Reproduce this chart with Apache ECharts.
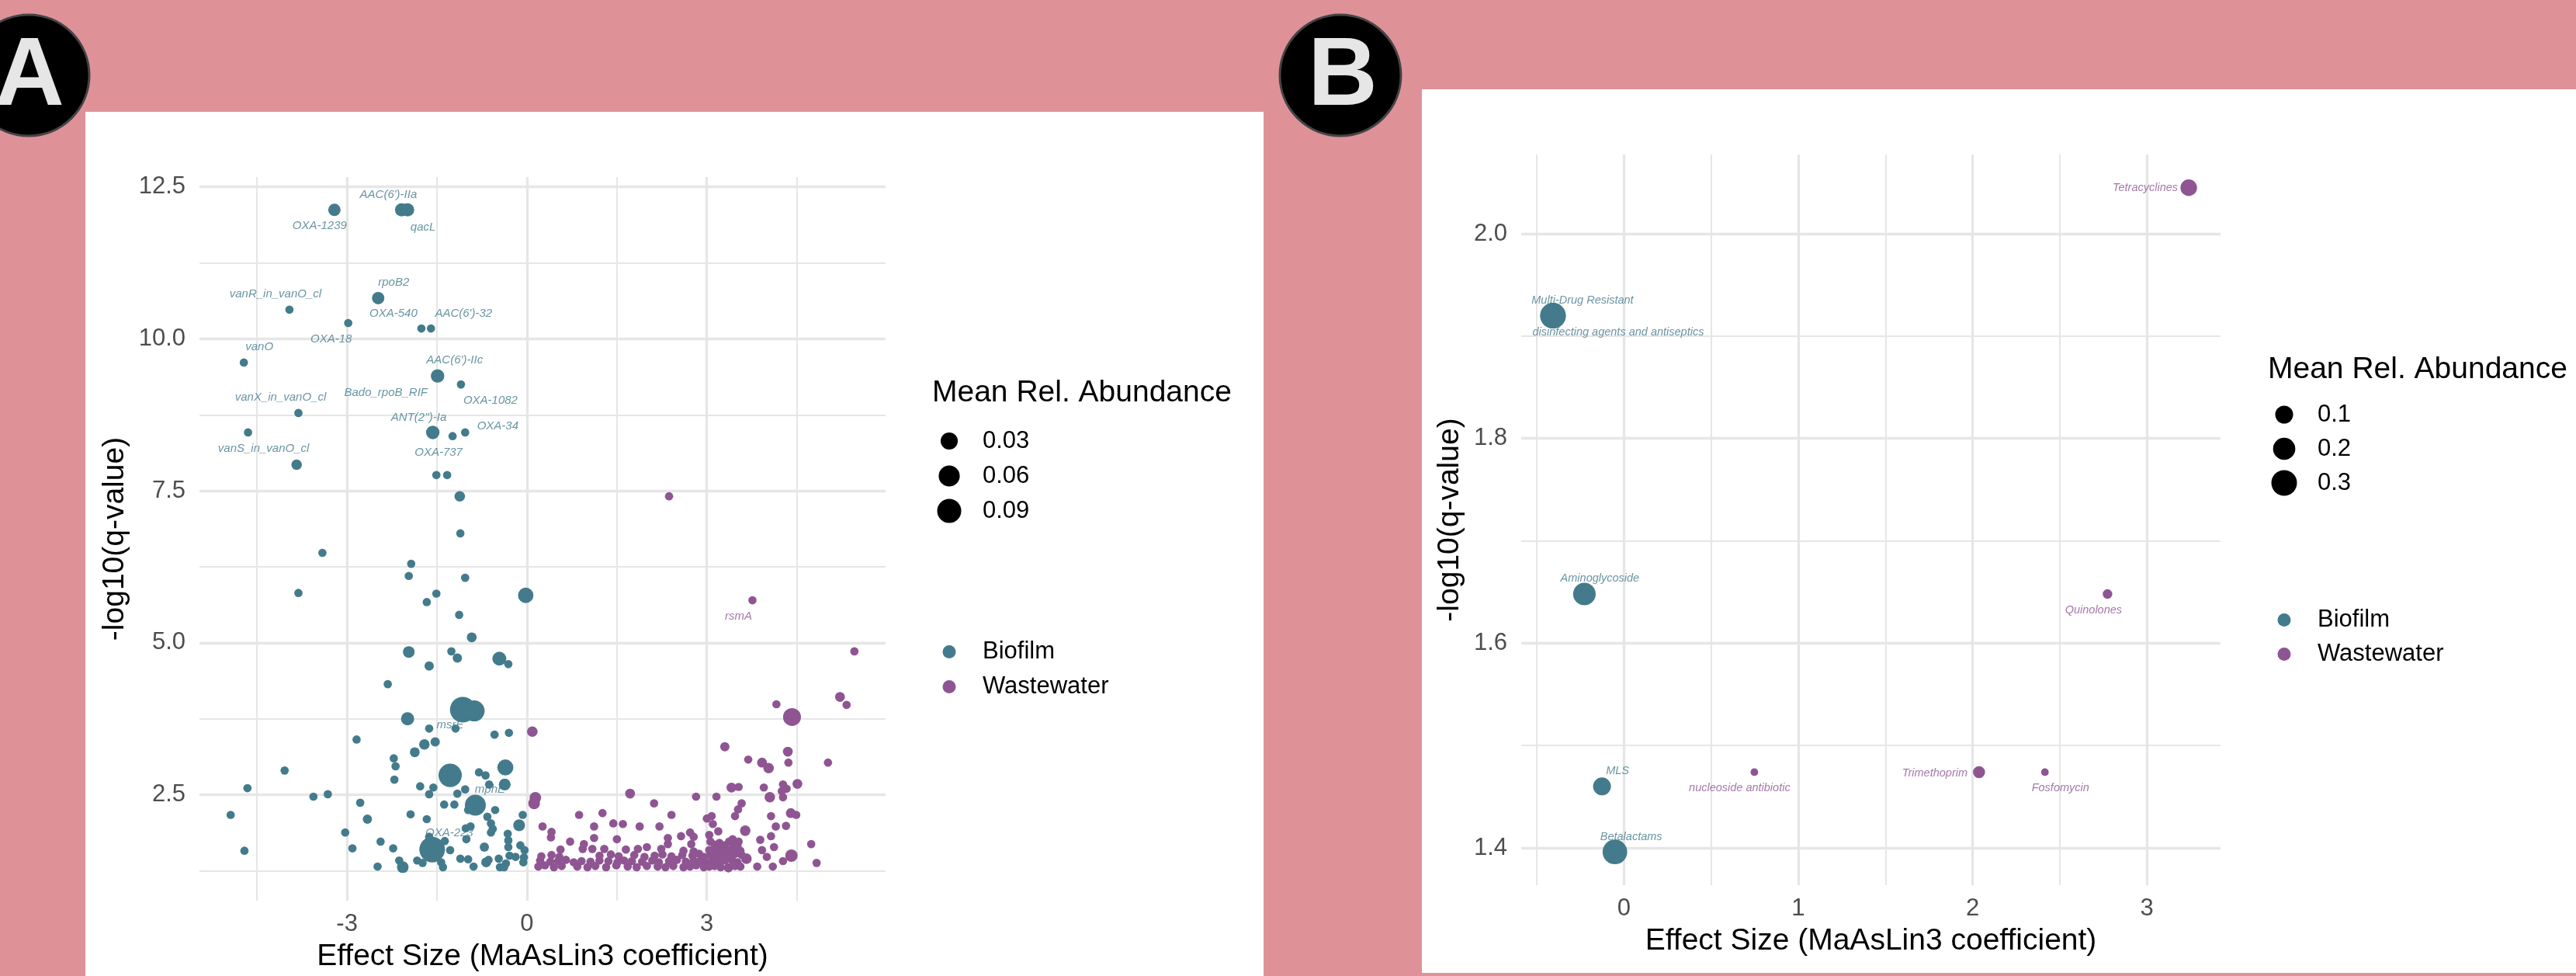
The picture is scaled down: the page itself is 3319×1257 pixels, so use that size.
<!DOCTYPE html>
<html>
<head>
<meta charset="utf-8">
<title>MaAsLin3 volcano plots</title>
<script src="https://cdn.jsdelivr.net/npm/echarts@6/dist/echarts.min.js"></script>
<style>
  html, body { margin: 0; padding: 0; background: #de9298; }
  #chart { width: 3319px; height: 1257px; }
</style>
</head>
<body>
<div id="chart"></div>
<script>
// panel A : single ARGs, [effect, -log10(q), mean rel. abundance, name]
var aBiofilmLabelled = [
  [-3.21, 12.12, 0.0073, "OXA-1239"], [-2.09, 12.12, 0.01, "AAC(6')-IIa"], [-1.99, 12.12, 0.01, "qacL"],
  [-2.48, 10.67, 0.0073, "rpoB2"], [-3.96, 10.48, 0.0001, "vanR_in_vanO_cl"], [-2.98, 10.26, 0.0001, "OXA-18"],
  [-1.76, 10.17, 0.0001, "OXA-540"], [-1.60, 10.17, 0.0001, "AAC(6')-32"], [-4.72, 9.61, 0.0001, "vanO"],
  [-1.51, 9.37, 0.0001, "Bado_rpoB_RIF"], [-1.49, 9.39, 0.011, "AAC(6')-IIc"], [-1.10, 9.25, 0.0001, "OXA-1082"],
  [-3.81, 8.78, 0.0001, "vanX_in_vanO_cl"], [-4.65, 8.46, 0.0001, "vanS_in_vanO_cl"], [-1.57, 8.46, 0.011, "ANT(2'')-Ia"],
  [-1.24, 8.40, 0.0001, "OXA-737"], [-1.03, 8.46, 0.0001, "OXA-34"], [-1.63, 3.59, 0.0001, "msrE"],
  [-0.86, 2.33, 0.059, "mphE"], [-1.58, 1.60, 0.108, "OXA-223"]
];
var aBiofilm = [
  [-3.84, 7.93, 0.0026], [-1.51, 7.76, 0.0001], [-1.33, 7.76, 0.0001], [-1.12, 7.41, 0.0026], [-1.11, 6.80, 0.0001],
  [-3.41, 6.48, 0.0001], [-1.93, 6.30, 0.0001], [-1.97, 6.10, 0.0001], [-1.03, 6.07, 0.0001], [-3.81, 5.82, 0.0001],
  [-1.51, 5.81, 0.0001], [-0.02, 5.78, 0.02], [-1.67, 5.67, 0.0001], [-1.13, 5.46, 0.0001], [-0.92, 5.09, 0.0015],
  [-1.97, 4.85, 0.0051], [-1.26, 4.86, 0.0001], [-1.16, 4.75, 0.0008], [-0.46, 4.74, 0.013], [-0.31, 4.65, 0.0001],
  [-1.63, 4.62, 0.0008], [-2.32, 4.32, 0.0001], [-1.07, 3.90, 0.108], [-0.88, 3.88, 0.059], [-1.99, 3.75, 0.01],
  [-1.19, 3.59, 0.0001], [-0.54, 3.49, 0.0001], [-0.30, 3.52, 0.0001], [-2.84, 3.41, 0.0001], [-1.71, 3.33, 0.0026],
  [-1.53, 3.37, 0.0008], [-1.87, 3.20, 0.0015], [-2.22, 3.10, 0.0001], [-2.19, 2.97, 0.0001], [-4.04, 2.90, 0.0001],
  [-0.36, 2.95, 0.023], [-1.28, 2.82, 0.082], [-0.80, 2.87, 0.0001], [-0.69, 2.82, 0.0001], [-2.21, 2.75, 0.0001],
  [-4.66, 2.61, 0.0001], [-0.37, 2.67, 0.0057], [-0.63, 2.67, 0.0001], [-1.78, 2.64, 0.0001], [-1.56, 2.62, 0.0001],
  [-1.63, 2.51, 0.0001], [-1.03, 2.59, 0.0001], [-1.16, 2.52, 0.0001], [-3.56, 2.47, 0.0001], [-3.32, 2.51, 0.0001],
  [-2.78, 2.37, 0.0001], [-1.38, 2.34, 0.0001], [-1.21, 2.34, 0.0001], [-0.53, 2.25, 0.0001], [-0.98, 2.25, 0.0001],
  [-4.94, 2.17, 0.0001], [-1.94, 2.18, 0.0001], [-0.07, 2.17, 0.0001], [-0.66, 2.14, 0.0001], [-2.66, 2.10, 0.0008],
  [-1.67, 2.10, 0.0001], [-0.60, 2.03, 0.0001], [-0.57, 1.94, 0.0001], [-0.60, 1.88, 0.0001], [-1.02, 1.95, 0.0001],
  [-0.94, 1.98, 0.0001], [-3.03, 1.88, 0.0001], [-0.13, 2.00, 0.0057], [-0.32, 1.86, 0.0001], [-0.31, 1.75, 0.0001],
  [-0.31, 1.64, 0.0001], [-1.01, 1.77, 0.0001], [-1.63, 1.81, 0.0001], [-1.37, 1.74, 0.0001], [-2.44, 1.73, 0.0001],
  [-2.91, 1.62, 0.0001], [-2.23, 1.62, 0.0001], [-1.65, 1.69, 0.0001], [-1.47, 1.69, 0.0001], [-1.28, 1.59, 0.0001],
  [-0.71, 1.64, 0.0008], [-0.11, 1.67, 0.0001], [-0.04, 1.59, 0.0001], [-4.71, 1.58, 0.0001], [-0.29, 1.50, 0.0001],
  [-0.19, 1.48, 0.0001], [-2.13, 1.42, 0.0001], [-2.07, 1.31, 0.0051], [-1.83, 1.42, 0.0001], [-1.74, 1.38, 0.0001],
  [-1.43, 1.39, 0.0001], [-1.40, 1.31, 0.0001], [-1.11, 1.45, 0.0001], [-0.98, 1.44, 0.0001], [-0.89, 1.32, 0.0001],
  [-0.68, 1.39, 0.0015], [-0.64, 1.43, 0.0001], [-0.47, 1.45, 0.0001], [-0.45, 1.31, 0.0001], [-0.35, 1.37, 0.0001],
  [-0.38, 1.31, 0.0001], [-0.06, 1.39, 0.0001], [-0.05, 1.47, 0.0001], [-2.49, 1.32, 0.0001]
];
var aWastewaterLabelled = [
  [3.76, 5.70, 0.0001, "rsmA"]
];
var aWastewater = [
  [2.37, 7.41, 0.0001], [5.46, 4.86, 0.0001], [4.16, 3.99, 0.0001], [4.42, 3.78, 0.035], [5.22, 4.11, 0.0015],
  [5.33, 3.98, 0.0001], [0.09, 3.54, 0.0026], [3.30, 3.29, 0.0008], [3.69, 3.08, 0.0001], [3.92, 3.03, 0.0015],
  [4.03, 2.94, 0.0026], [4.35, 3.21, 0.0015], [4.36, 3.03, 0.0001], [5.02, 3.03, 0.0001], [0.14, 2.45, 0.0051],
  [0.12, 2.36, 0.0051], [1.72, 2.52, 0.0015], [2.82, 2.47, 0.0001], [3.16, 2.47, 0.0001], [3.41, 2.62, 0.0015],
  [3.53, 2.63, 0.0001], [3.95, 2.62, 0.0001], [4.05, 2.46, 0.0026], [4.27, 2.67, 0.0001], [4.33, 2.60, 0.0001],
  [4.25, 2.56, 0.0001], [4.27, 2.46, 0.0001], [4.51, 2.68, 0.0015], [2.12, 2.36, 0.0001], [3.58, 2.36, 0.0001],
  [3.52, 2.26, 0.0001], [3.47, 2.15, 0.0001], [0.87, 2.17, 0.0001], [1.26, 2.20, 0.0001], [2.41, 2.17, 0.0001],
  [4.07, 2.15, 0.0001], [4.40, 2.20, 0.0015], [4.49, 2.17, 0.0001], [0.26, 1.98, 0.0001], [0.41, 1.89, 0.0001],
  [0.40, 1.80, 0.0001], [1.12, 1.98, 0.0001], [1.44, 2.03, 0.0001], [1.60, 2.02, 0.0001], [1.88, 1.98, 0.0001],
  [2.21, 1.98, 0.0001], [3.00, 2.11, 0.0001], [3.08, 2.15, 0.0001], [3.10, 2.02, 0.0001], [3.19, 1.90, 0.0001],
  [3.64, 1.91, 0.0026], [4.15, 1.98, 0.0001], [4.32, 1.99, 0.0001], [4.07, 1.82, 0.0001], [4.12, 1.64, 0.0001],
  [3.89, 1.76, 0.0001], [3.92, 1.59, 0.0001], [4.74, 1.69, 0.0001], [0.72, 1.73, 0.0001], [1.12, 1.79, 0.0001],
  [1.50, 1.77, 0.0001], [0.95, 1.69, 0.0001], [0.93, 1.61, 0.0001], [0.56, 1.60, 0.0001], [1.09, 1.61, 0.0001],
  [1.29, 1.61, 0.0001], [1.65, 1.60, 0.0001], [1.85, 1.61, 0.0001], [2.00, 1.64, 0.0001], [2.24, 1.61, 0.0001],
  [2.35, 1.79, 0.0001], [2.35, 1.69, 0.0001], [2.57, 1.82, 0.0001], [2.72, 1.88, 0.0001], [2.78, 1.81, 0.0001],
  [2.74, 1.69, 0.0001], [3.04, 1.84, 0.0001], [3.06, 1.73, 0.0001], [3.37, 1.73, 0.0001], [3.43, 1.77, 0.0001],
  [3.53, 1.73, 0.0001], [3.47, 1.64, 0.0001], [4.00, 1.48, 0.0001], [4.27, 1.41, 0.0001], [4.41, 1.50, 0.0073],
  [4.83, 1.38, 0.0001], [3.84, 1.32, 0.0001], [4.10, 1.32, 0.0001], [3.66, 1.45, 0.0026],
  // dense band just above q = 0.05
  [0.19, 1.32, 0.0001], [0.30, 1.34, 0.0001], [0.45, 1.31, 0.0001], [0.58, 1.33, 0.0001], [0.84, 1.32, 0.0001],
  [1.01, 1.31, 0.0001], [1.14, 1.33, 0.0001], [1.32, 1.31, 0.0001], [1.49, 1.34, 0.0001], [1.68, 1.32, 0.0001],
  [1.83, 1.31, 0.0001], [2.00, 1.33, 0.0001], [2.18, 1.32, 0.0001], [2.31, 1.31, 0.0001], [2.44, 1.33, 0.0001],
  [2.61, 1.31, 0.0001], [2.72, 1.32, 0.0001], [2.82, 1.34, 0.0001], [2.95, 1.31, 0.0001], [3.04, 1.32, 0.0001],
  [3.13, 1.33, 0.0001], [3.23, 1.31, 0.0001], [3.36, 1.30, 0.0008], [3.47, 1.33, 0.0001], [3.56, 1.32, 0.0001],
  [0.22, 1.42, 0.0001], [0.39, 1.40, 0.0001], [0.52, 1.41, 0.0001], [0.65, 1.43, 0.0001], [0.78, 1.39, 0.0001],
  [0.91, 1.41, 0.0001], [1.06, 1.40, 0.0001], [1.21, 1.42, 0.0001], [1.36, 1.41, 0.0001], [1.51, 1.39, 0.0001],
  [1.62, 1.42, 0.0001], [1.75, 1.41, 0.0001], [1.92, 1.40, 0.0001], [2.09, 1.42, 0.0001], [2.20, 1.39, 0.0001],
  [2.37, 1.41, 0.0001], [2.50, 1.43, 0.0001], [2.65, 1.40, 0.0001], [2.78, 1.42, 0.0001], [2.89, 1.41, 0.0001],
  [3.00, 1.39, 0.0001], [3.11, 1.42, 0.0001], [3.19, 1.40, 0.0001], [3.30, 1.43, 0.0008], [3.43, 1.41, 0.0001],
  [3.51, 1.39, 0.0001], [0.24, 1.49, 0.0001], [0.41, 1.51, 0.0001], [0.54, 1.48, 0.0001], [1.21, 1.50, 0.0001],
  [1.40, 1.52, 0.0001], [1.53, 1.49, 0.0001], [1.79, 1.51, 0.0001], [1.96, 1.48, 0.0001], [2.13, 1.50, 0.0001],
  [2.26, 1.52, 0.0001], [2.41, 1.49, 0.0001], [2.59, 1.51, 0.0001], [2.76, 1.50, 0.0001], [2.87, 1.53, 0.0001],
  [2.95, 1.48, 0.0001], [3.06, 1.51, 0.0001], [3.15, 1.49, 0.0001], [3.23, 1.52, 0.0001], [3.34, 1.50, 0.0001],
  [3.41, 1.48, 0.0001], [3.47, 1.53, 0.0001], [3.58, 1.51, 0.0001], [2.61, 1.58, 0.0001], [2.78, 1.57, 0.0001],
  [3.04, 1.59, 0.0001], [3.13, 1.56, 0.0001], [3.21, 1.60, 0.0001], [3.30, 1.57, 0.0001], [3.38, 1.59, 0.0001],
  [3.47, 1.56, 0.0001], [3.56, 1.58, 0.0001], [3.13, 1.68, 0.0001], [3.21, 1.71, 0.0001], [3.30, 1.67, 0.0001],
  [3.43, 1.70, 0.0001], [3.51, 1.66, 0.0001]
];

// panel B : drug classes
var bBiofilm = [
  [-0.407, 1.920, 0.30, "Multi-Drug Resistant"], [-0.407, 1.920, 0.30, "disinfecting agents and antiseptics"],
  [-0.227, 1.648, 0.21, "Aminoglycoside"], [-0.126, 1.460, 0.10, "MLS"], [-0.052, 1.396, 0.27, "Betalactams"]
];
var bWastewater = [
  [3.24, 2.045, 0.078, "Tetracyclines"], [2.774, 1.648, 0.005, "Quinolones"],
  [0.748, 1.474, 0.0001, "nucleoside antibiotic"], [2.037, 1.474, 0.02, "Trimethoprim"],
  [2.415, 1.474, 0.0001, "Fosfomycin"]
];

// ticks
var aXTicks = [-3, 0, 3], aXMinor = [-4.5, -1.5, 1.5, 4.5];
var aYTicks = [2.5, 5, 7.5, 10, 12.5], aYMinor = [1.25, 3.75, 6.25, 8.75, 11.25];
var bXTicks = [0, 1, 2, 3], bXMinor = [-0.5, 0.5, 1.5, 2.5];
var bYTicks = [1.4, 1.6, 1.8, 2.0], bYMinor = [1.5, 1.7, 1.9];
var aSizeBreaks = [0.03, 0.06, 0.09];
var bSizeBreaks = [0.1, 0.2, 0.3];

// label nudges (px from point centre), like ggrepel placed them
var labelNudge = {
  "OXA-1239": [-19, 20], "AAC(6')-IIa": [-17, -20], "qacL": [20, 22], "rpoB2": [20, -20],
  "vanR_in_vanO_cl": [-18, -20], "OXA-18": [-22, 21], "OXA-540": [-36, -19], "AAC(6')-32": [42, -19],
  "vanO": [20, -20], "AAC(6')-IIc": [22, -20], "Bado_rpoB_RIF": [-65, 20], "OXA-1082": [38, 21],
  "vanX_in_vanO_cl": [-23, -20], "vanS_in_vanO_cl": [20, 21], "ANT(2'')-Ia": [-18, -19],
  "OXA-737": [-18, 21], "OXA-34": [42, -8], "msrE": [27, -4], "mphE": [19, -20], "OXA-223": [22, -21],
  "rsmA": [-18, 21],
  "Multi-Drug Resistant": [38, -20], "disinfecting agents and antiseptics": [84, 21],
  "Aminoglycoside": [20, -20], "MLS": [20, -20], "Betalactams": [21, -19],
  "Tetracyclines": [-56, 0], "Quinolones": [-18, 21], "nucleoside antibiotic": [-19, 21],
  "Trimethoprim": [-57, 2], "Fosfomycin": [20, 21]
};

var TEAL = '#437b8c', PURPLE = '#8f5593', GRID = '#e6e6e6';
var FONT = '"Liberation Sans", Arial, Helvetica, sans-serif';

// ggplot area scale, fitted on the legend keys
function sizeA(v) { return 10 + 70 * Math.sqrt(v); }
function sizeB(v) { return 9.4 + 43 * Math.sqrt(v); }

// ggplot default 5% expansion of the data range
function padExtent(groups, k) {
  var vals = [];
  groups.forEach(function (g) { g.forEach(function (p) { vals.push(p[k]); }); });
  var lo = Math.min.apply(null, vals), hi = Math.max.apply(null, vals);
  var pad = (hi - lo) * 0.05;
  return [lo - pad, hi + pad];
}

var aXExt = padExtent([aBiofilmLabelled, aBiofilm, aWastewaterLabelled, aWastewater], 0);
var aYExt = padExtent([aBiofilmLabelled, aBiofilm, aWastewaterLabelled, aWastewater], 1);
var bXExt = padExtent([bBiofilm, bWastewater], 0);
var bYExt = padExtent([bBiofilm, bWastewater], 1);

function axisPair(dim, grid, ext, major, minor, name, nameGap, fmt) {
  var main = {
    type: 'value', gridIndex: grid, min: ext[0], max: ext[1],
    position: dim == 'x' ? 'bottom' : 'left',
    name: name, nameLocation: 'middle', nameGap: nameGap,
    nameTextStyle: { fontSize: 39, color: '#000', fontFamily: FONT },
    axisLine: { show: false },
    axisTick: { show: false, customValues: major },
    axisLabel: { customValues: major, fontSize: 31, color: '#4d4d4d', fontFamily: FONT,
                 margin: dim == 'x' ? 15 : 18, formatter: fmt },
    splitLine: { show: true, lineStyle: { color: GRID, width: 3.3 } }
  };
  var minorAxis = {
    type: 'value', gridIndex: grid, min: ext[0], max: ext[1],
    position: dim == 'x' ? 'bottom' : 'left',
    axisLine: { show: false },
    axisTick: { show: false, customValues: minor },
    axisLabel: { show: false, customValues: minor },
    splitLine: { show: true, lineStyle: { color: GRID, width: 2 } }
  };
  return [main, minorAxis];
}

function toPoints(rows) {
  return rows.map(function (r) {
    return { value: [r[0], r[1], r[2]], name: r[3] || '' };
  });
}

function toLabels(rows) {
  return rows.map(function (r) {
    var nudge = labelNudge[r[3]] || [0, 0];
    return { value: [r[0], r[1]], name: r[3], label: { offset: nudge } };
  });
}

// labels sit under the points (z 1), as in the ggrepel layer
function labelSeries(rows, xi, yi, color, fsize) {
  return {
    type: 'scatter', xAxisIndex: xi, yAxisIndex: yi, z: 1, silent: true,
    symbolSize: 0, itemStyle: { color: 'rgba(0,0,0,0)' },
    label: { show: true, position: 'inside', formatter: '{b}', color: color,
             fontSize: fsize, fontStyle: 'italic', fontFamily: FONT },
    data: toLabels(rows)
  };
}

function pointSeries(name, rows, xi, yi, color, sizeFn) {
  return {
    type: 'scatter', name: name, xAxisIndex: xi, yAxisIndex: yi, z: 2,
    symbolSize: function (val) { return sizeFn(val[2]); },
    itemStyle: { color: color, opacity: 1 },
    data: toPoints(rows)
  };
}

var chart = echarts.init(document.getElementById('chart'), null, { renderer: 'canvas' });

var xa = axisPair('x', 0, aXExt, aXTicks, aXMinor, 'Effect Size (MaAsLin3 coefficient)', 53,
                  function (v) { return String(v); });
var ya = axisPair('y', 0, aYExt, aYTicks, aYMinor, '-log10(q-value)', 89,
                  function (v) { return v.toFixed(1); });
var xb = axisPair('x', 1, bXExt, bXTicks, bXMinor, 'Effect Size (MaAsLin3 coefficient)', 53,
                  function (v) { return String(v); });
var yb = axisPair('y', 1, bYExt, bYTicks, bYMinor, '-log10(q-value)', 72,
                  function (v) { return v.toFixed(1); });

// size legends and panel furniture
var gfx = [
  { type: 'rect', z: -10, shape: { x: 110, y: 144, width: 1518, height: 1113 }, style: { fill: '#fff' } },
  { type: 'rect', z: -10, shape: { x: 1832, y: 115, width: 1487, height: 1138 }, style: { fill: '#fff' } },
  { type: 'circle', shape: { cx: 37, cy: 97, r: 78 }, style: { fill: '#000', stroke: '#444', lineWidth: 3 } },
  { type: 'text', style: { text: 'A', x: 38, y: 101, textAlign: 'center', textVerticalAlign: 'middle',
      font: 'bold 124px ' + FONT, fill: '#e6e6e6' } },
  { type: 'circle', shape: { cx: 1727, cy: 97, r: 78 }, style: { fill: '#000', stroke: '#444', lineWidth: 3 } },
  { type: 'text', style: { text: 'B', x: 1730, y: 101, textAlign: 'center', textVerticalAlign: 'middle',
      font: 'bold 124px ' + FONT, fill: '#e6e6e6' } }
];

function sizeLegend(left, titleY, dotX, firstY, step, breaks, sizeFn) {
  gfx.push({ type: 'text', style: { text: 'Mean Rel. Abundance', x: left, y: titleY,
    textVerticalAlign: 'middle', font: '39px ' + FONT, fill: '#000' } });
  breaks.forEach(function (b, i) {
    var y = firstY + i * step;
    gfx.push({ type: 'circle', shape: { cx: dotX, cy: y, r: sizeFn(b) / 2 }, style: { fill: '#000' } });
    gfx.push({ type: 'text', style: { text: String(b), x: dotX + 43, y: y,
      textVerticalAlign: 'middle', font: '31px ' + FONT, fill: '#000' } });
  });
}
sizeLegend(1201, 506, 1223, 568, 45, aSizeBreaks, sizeA);
sizeLegend(2922, 476, 2943, 534, 44, bSizeBreaks, sizeB);

function colorLegend(dotX, top, gap) {
  return {
    data: ['Biofilm', 'Wastewater'], orient: 'vertical', left: dotX - 8.5, top: top,
    padding: 0, itemWidth: 17, itemHeight: 17, itemGap: gap, icon: 'circle', selectedMode: false,
    textStyle: { fontSize: 31, lineHeight: 31, color: '#000', fontFamily: FONT, padding: [0, 0, 0, 29.5] }
  };
}

var option = {
  backgroundColor: '#de9298',
  animation: false,
  grid: [
    { left: 257, top: 228, width: 884, height: 939 },
    { left: 1960, top: 199, width: 901, height: 941 }
  ],
  xAxis: [xa[0], xa[1], xb[0], xb[1]],
  yAxis: [ya[0], ya[1], yb[0], yb[1]],
  legend: [colorLegend(1223, 824, 14), colorLegend(2943, 783, 13)],
  graphic: { elements: gfx },
  series: [
    labelSeries(aBiofilmLabelled, 0, 0, TEAL, 15),
    labelSeries(aWastewaterLabelled, 0, 0, PURPLE, 15),
    pointSeries('Biofilm', aBiofilmLabelled.concat(aBiofilm), 0, 0, TEAL, sizeA),
    pointSeries('Wastewater', aWastewaterLabelled.concat(aWastewater), 0, 0, PURPLE, sizeA),
    labelSeries(bBiofilm, 2, 2, TEAL, 14.5),
    labelSeries(bWastewater, 2, 2, PURPLE, 14.5),
    pointSeries('Biofilm', bBiofilm, 2, 2, TEAL, sizeB),
    pointSeries('Wastewater', bWastewater, 2, 2, PURPLE, sizeB)
  ]
};

chart.setOption(option);
</script>
</body>
</html>
